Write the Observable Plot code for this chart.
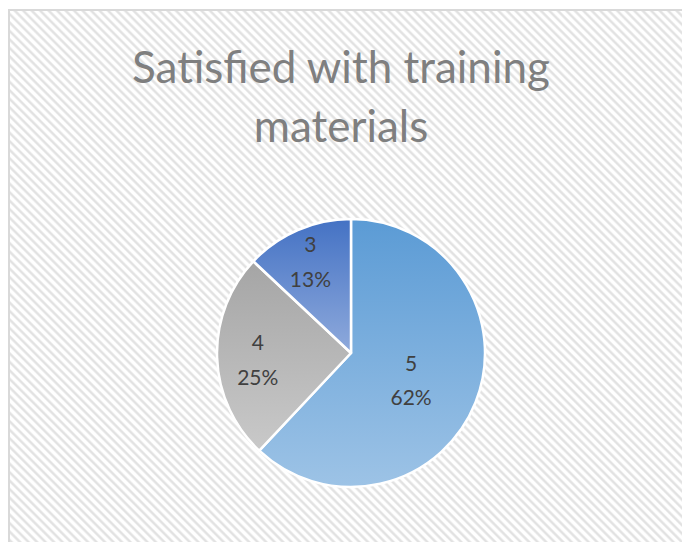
<!DOCTYPE html>
<html>
<head>
<meta charset="utf-8">
<script src="https://cdn.jsdelivr.net/npm/d3@7"></script>
<script src="https://cdn.jsdelivr.net/npm/@observablehq/plot@0.6"></script>
<style>
  html, body { margin: 0; padding: 0; background: #fff; }
  #page { position: relative; width: 682px; height: 542px; overflow: hidden; background: #fff; font-family: Lato, "Open Sans", sans-serif; }
  #bg { position: absolute; left: 8px; top: 9px; width: 740px; height: 620px; border: 2px solid #d9d9d9;
        background: repeating-linear-gradient(45deg, #ffffff 0px, #ffffff 2px, #e2e2e2 3.5px, #e2e2e2 4.5px, #ffffff 6px); }
  #title { position: absolute; left: 0; top: 37px; width: 682px; text-align: center; font-size: 44px; line-height: 59px; color: #7f7f7f; }
  #chart { position: absolute; left: 0; top: 160px; }
</style>
</head>
<body>
<div id="page">
  <div id="bg"></div>
  <div id="title">Satisfied with training<br>materials</div>
  <div id="chart"></div>
</div>
<script>
const categories = ["5", "4", "3"];
const shares = [62, 25, 13];
const topColors = ["#5b9bd5", "#a5a5a5", "#4472c4"];
const bottomColors = ["#9dc3e6", "#c9c9c9", "#8faadc"];

const total = d3.sum(shares);
const arcs = d3.pie().sort(null).startAngle(0).endAngle(2 * Math.PI)(shares);
const table = arcs.map((a, i) => {
  const mid = (a.startAngle + a.endAngle) / 2;
  const frac = shares[i] / total;
  const lr = 0.85 - 0.6 * frac;
  return {
    category: categories[i],
    share: shares[i],
    startAngle: a.startAngle,
    endAngle: a.endAngle,
    lx: lr * Math.sin(mid),
    ly: lr * Math.cos(mid),
    label: `${categories[i]}\n${shares[i]}%`
  };
});

function pieMark(index, scales) {
  const sx = scales.x, sy = scales.y;
  const cx = sx(0), cy = sy(0);
  const r = Math.abs(sx(1) - sx(0));
  const g = d3.create("svg:g");
  const defs = g.append("defs");
  table.forEach((d, i) => {
    const grad = defs.append("linearGradient")
      .attr("id", "grad" + i).attr("x1", 0).attr("y1", 0).attr("x2", 0).attr("y2", 1);
    grad.append("stop").attr("offset", "0%").attr("stop-color", topColors[i]);
    grad.append("stop").attr("offset", "100%").attr("stop-color", bottomColors[i]);
  });
  const arc = d3.arc().innerRadius(0).outerRadius(r);
  g.attr("transform", `translate(${cx},${cy})`)
    .selectAll("path")
    .data(table)
    .join("path")
    .attr("d", d => arc({startAngle: d.startAngle, endAngle: d.endAngle}))
    .attr("fill", (d, i) => `url(#grad${i})`)
    .attr("stroke", "#ffffff")
    .attr("stroke-width", 2.5)
    .attr("stroke-linejoin", "round");
  return g.node();
}

const chart = Plot.plot({
  width: 682,
  height: 382,
  marginLeft: 217,
  marginRight: 197,
  marginTop: 59,
  marginBottom: 55,
  style: { background: "transparent", fontFamily: "Lato, 'Open Sans', sans-serif" },
  x: { domain: [-1, 1], axis: null },
  y: { domain: [-1, 1], axis: null },
  marks: [
    pieMark,
    Plot.text(table, {
      x: "lx", y: "ly", text: "label",
      fontSize: 21, lineHeight: 1.65, fill: "#404040"
    })
  ]
});
document.getElementById("chart").appendChild(chart);
</script>
</body>
</html>
